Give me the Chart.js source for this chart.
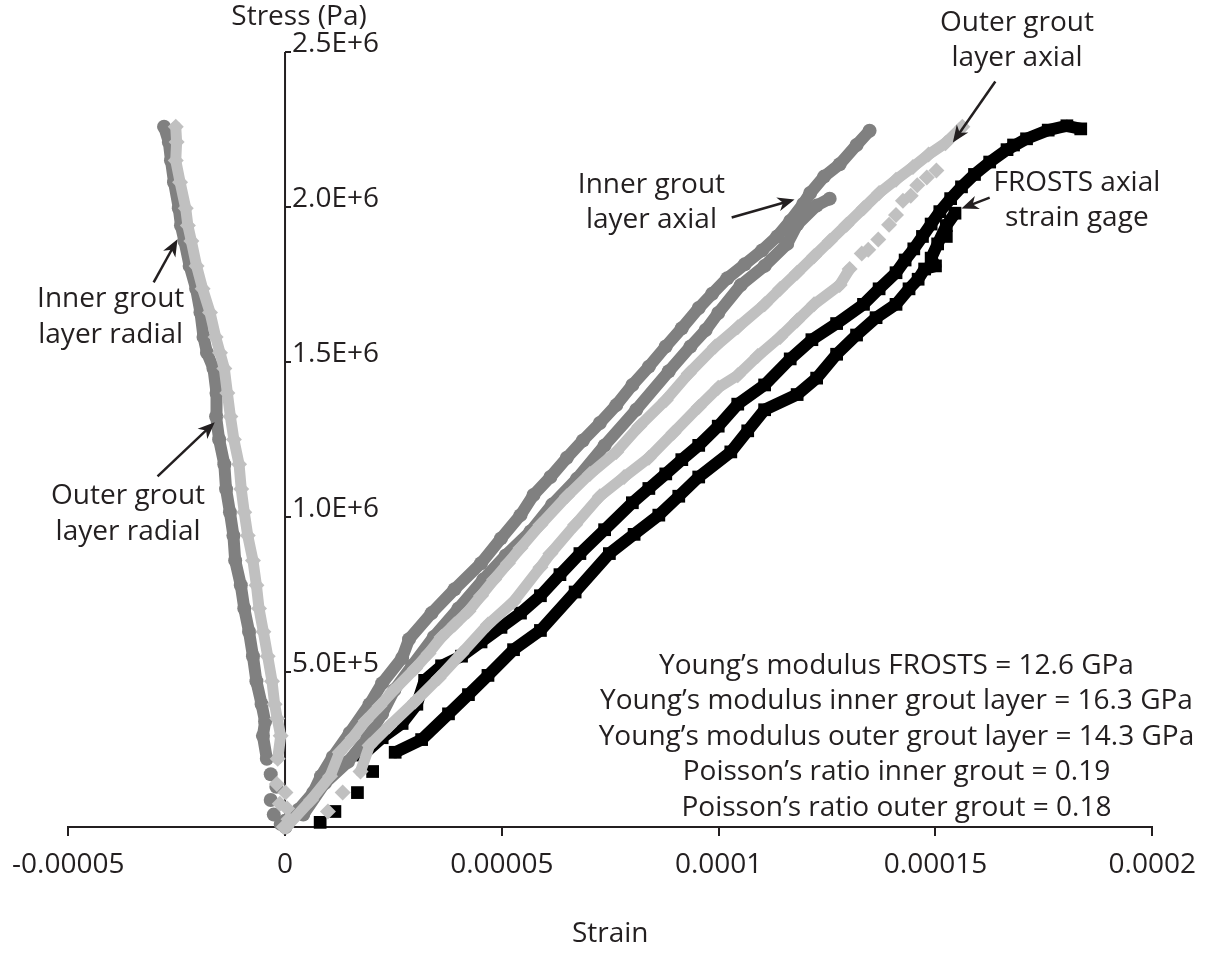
<!DOCTYPE html>
<html>
<head>
<meta charset="utf-8">
<script src="https://cdn.jsdelivr.net/npm/chart.js@4.4.1/dist/chart.umd.min.js"></script>
<style>
  html, body { margin: 0; padding: 0; background: #fff; }
  #chart { display: block; }
</style>
</head>
<body>
<canvas id="chart" width="1208" height="965"></canvas>
<script>
const INK = '#231f20';
const DARK = '#808080';
const LIGHT = '#c0c0c0';
const FONT = '"Open Sans", "Noto Sans", sans-serif';
const FONT_SIZE = 28;

// axis labels
const strainTickLabels = ['-0.00005', '0', '0.00005', '0.0001', '0.00015', '0.0002'];
const stressTickLabels = ['', '5.0E+5', '1.0E+6', '1.5E+6', '2.0E+6', '2.5E+6'];

// readings: [strain in microstrain, stress in MPa]
const innerRadial = [
    [-4.2, 0.220], [-5.1, 0.294], [-4.6, 0.340], [-5.4, 0.396], [-6.6, 0.470], [-7.4, 0.551],
    [-8.3, 0.630], [-9.4, 0.705], [-10.2, 0.780], [-11.5, 0.860], [-11.9, 0.940], [-12.7, 1.015],
    [-13.6, 1.090], [-14.0, 1.170], [-15.2, 1.250], [-15.9, 1.324], [-15.8, 1.400], [-16.5, 1.479],
    [-18.0, 1.530], [-18.8, 1.581], [-19.5, 1.660], [-20.5, 1.736], [-22.0, 1.810], [-23.2, 1.890],
    [-24.0, 1.940], [-24.5, 1.996], [-25.6, 2.080], [-26.3, 2.150], [-26.8, 2.210], [-27.9, 2.259]
];
const innerRadialLow = [[-3.3, 0.170], [-2.0, 0.130], [-3.3, 0.087], [-2.6, 0.040], [-1.0, 0.010], [0.0, 0.020]];

const outerRadial = [
    [-1.7, 0.220], [-1.0, 0.294], [-1.8, 0.350], [-2.4, 0.396], [-3.0, 0.470], [-4.0, 0.551],
    [-5.0, 0.630], [-6.0, 0.705], [-6.6, 0.780], [-7.4, 0.860], [-8.6, 0.940], [-9.4, 1.015],
    [-10.1, 1.090], [-10.6, 1.170], [-11.8, 1.250], [-12.6, 1.324], [-13.3, 1.400], [-14.0, 1.479],
    [-15.0, 1.530], [-16.0, 1.581], [-17.3, 1.660], [-19.0, 1.736], [-20.4, 1.810], [-21.6, 1.890],
    [-22.4, 1.940], [-22.9, 1.996], [-24.2, 2.080], [-25.2, 2.150], [-25.0, 2.210], [-25.2, 2.259]
];
const outerRadialLow = [[0.1, 0.111], [-1.9, 0.139], [0.8, 0.025], [-0.3, 0.0], [0.5, 0.060], [-1.2, 0.075]];

const innerAxial1 = [
    [0.1, 0.000], [3.1, 0.056], [6.5, 0.111], [8.3, 0.164], [11.0, 0.226], [14.9, 0.303],
    [19.5, 0.396], [22.4, 0.464], [27.0, 0.545], [28.6, 0.606], [33.8, 0.690], [39.1, 0.767],
    [45.2, 0.851], [49.8, 0.931], [54.3, 1.006], [57.3, 1.071], [61.2, 1.129], [65.0, 1.191],
    [68.7, 1.247], [72.6, 1.303], [76.4, 1.361], [80.1, 1.426], [83.9, 1.485], [87.8, 1.550],
    [91.5, 1.609], [95.4, 1.674], [98.5, 1.720], [102.0, 1.770], [106.0, 1.815], [110.0, 1.860],
    [113.5, 1.905], [116.5, 1.955], [119.5, 2.010], [121.1, 2.045], [124.3, 2.098], [127.9, 2.138],
    [131.8, 2.200], [134.8, 2.246]
];
const innerAxial2 = [
    [4.2, 0.040], [9.2, 0.142], [14.5, 0.210], [19.0, 0.288], [22.4, 0.365], [25.2, 0.442],
    [29.3, 0.520], [34.3, 0.613], [40.0, 0.705], [45.7, 0.798], [50.9, 0.876], [56.6, 0.953],
    [61.6, 1.040], [67.3, 1.123], [73.7, 1.231], [81.0, 1.346], [88.5, 1.470], [93.5, 1.550],
    [97.0, 1.603], [99.9, 1.658], [105.1, 1.748], [110.6, 1.810], [115.8, 1.881], [118.1, 1.943],
    [122.6, 2.005], [125.6, 2.027]
];

const outerAxial1 = [
    [0.3, 0.000], [6.0, 0.087], [10.4, 0.164], [12.6, 0.241], [15.6, 0.288], [18.6, 0.343],
    [21.8, 0.390], [24.7, 0.436], [30.0, 0.511], [33.1, 0.560], [36.1, 0.613], [39.1, 0.653],
    [42.3, 0.696], [45.2, 0.746], [48.2, 0.798], [51.4, 0.851], [54.3, 0.900], [58.9, 0.975],
    [65.0, 1.067], [70.3, 1.139], [76.4, 1.210], [81.7, 1.293], [87.8, 1.377], [93.1, 1.463],
    [99.2, 1.550], [104.4, 1.612], [110.6, 1.686], [114.2, 1.736], [118.1, 1.788], [122.0, 1.841],
    [125.6, 1.890], [129.5, 1.943], [133.4, 1.996], [137.0, 2.045], [140.9, 2.088], [144.8, 2.129],
    [148.4, 2.169], [152.3, 2.206], [156.2, 2.259]
];
const outerAxial2 = [
    [17.4, 0.179], [19.5, 0.263], [24.0, 0.325], [30.0, 0.405], [35.4, 0.480], [40.7, 0.560],
    [46.8, 0.653], [52.7, 0.727], [58.9, 0.838], [61.2, 0.882], [66.9, 0.975], [72.6, 1.067],
    [78.2, 1.129], [83.9, 1.191], [89.6, 1.272], [95.4, 1.355], [99.9, 1.417], [104.4, 1.457],
    [109.0, 1.519], [114.2, 1.581], [118.1, 1.634], [122.0, 1.686], [127.9, 1.748], [130.2, 1.800]
];
const outerAxialDots = [
    [9.9, 0.050], [13.3, 0.111], [133.0, 1.850], [134.5, 1.862], [136.8, 1.895], [139.3, 1.943],
    [140.9, 1.974], [142.5, 2.020], [144.3, 2.036], [145.8, 2.070], [148.0, 2.095], [150.2, 2.118]
];

const frosts1 = [
    [17.9, 0.232], [22.4, 0.288], [27.0, 0.334], [30.4, 0.396], [32.2, 0.473], [36.1, 0.520],
    [40.7, 0.551], [45.2, 0.597], [49.8, 0.644], [54.3, 0.690], [58.9, 0.746], [63.4, 0.814],
    [68.0, 0.882], [73.7, 0.959], [80.1, 1.046], [83.9, 1.092], [87.8, 1.139], [91.5, 1.185],
    [95.4, 1.231], [99.9, 1.293], [104.4, 1.364], [110.6, 1.426], [116.5, 1.510], [121.5, 1.572],
    [127.2, 1.624], [133.4, 1.686], [137.0, 1.736], [140.9, 1.788], [143.0, 1.829], [145.0, 1.865],
    [147.0, 1.905], [149.0, 1.945], [151.0, 1.985], [153.5, 2.027], [156.0, 2.065], [159.0, 2.105],
    [162.5, 2.145], [166.5, 2.185], [171.0, 2.220], [176.0, 2.248], [180.3, 2.262], [183.5, 2.252]
];
const frosts2 = [
    [25.4, 0.241], [31.5, 0.282], [37.7, 0.365], [42.3, 0.427], [46.8, 0.489], [52.7, 0.572],
    [58.9, 0.634], [66.9, 0.758], [74.8, 0.882], [80.5, 0.944], [86.2, 1.006], [90.8, 1.067],
    [95.4, 1.129], [102.8, 1.210], [106.7, 1.278], [110.6, 1.346], [118.1, 1.395], [122.6, 1.448],
    [127.2, 1.525], [131.8, 1.587], [136.3, 1.643], [140.9, 1.686], [143.9, 1.736], [146.0, 1.767],
    [147.5, 1.800], [150.0, 1.810], [149.0, 1.835], [150.5, 1.881], [152.5, 1.940], [154.5, 1.980]
];
const frostsDots = [[8.1, 0.015], [11.5, 0.050], [16.7, 0.111], [20.2, 0.179], [152.5, 1.905], [168.0, 2.200]];

// annotations, anchored in data units
const seriesLabels = [
    { text: ['Outer grout', 'layer axial'], at: [168.8, 2.595] },
    { text: ['Inner grout', 'layer axial'], at: [84.5, 2.071] },
    { text: ['FROSTS axial', 'strain gage'], at: [182.6, 2.078] },
    { text: ['Inner grout', 'layer radial'], at: [-40.2, 1.703] },
    { text: ['Outer grout', 'layer radial'], at: [-36.2, 1.067] }
];
const arrows = [
    { from: [163.8, 2.405], to: [154.0, 2.208] },
    { from: [103.0, 1.966], to: [117.5, 2.024] },
    { from: [162.5, 2.030], to: [156.0, 1.995] },
    { from: [-30.3, 1.757], to: [-24.8, 1.896] },
    { from: [-29.4, 1.131], to: [-16.2, 1.306] }
];
const notes = [
    'Young’s modulus FROSTS = 12.6 GPa',
    'Young’s modulus inner grout layer = 16.3 GPa',
    'Young’s modulus outer grout layer = 14.3 GPa',
    'Poisson’s ratio inner grout = 0.19',
    'Poisson’s ratio outer grout = 0.18'
];
const notesAt = [141.0, 0.520];

const toXY = pts => pts.map(([e, s]) => ({ x: e * 1e-6, y: s * 1e6 }));

const INNER = { color: DARK, pointStyle: 'circle', radius: 7, width: 12, order: 2 };
const OUTER = { color: LIGHT, pointStyle: 'rectRot', radius: 8, width: 11, order: 1 };
const FROSTS = { color: '#000000', pointStyle: 'rect', radius: 9, width: 12, order: 3 };

function series(pts, st, line) {
    return {
        data: toXY(pts),
        showLine: line,
        borderColor: st.color,
        backgroundColor: st.color,
        borderWidth: st.width,
        borderJoinStyle: 'round',
        borderCapStyle: 'round',
        pointStyle: st.pointStyle,
        pointRadius: st.radius,
        pointBorderWidth: 0,
        pointHoverRadius: st.radius,
        order: st.order,
        clip: false
    };
}

function drawArrow(ctx, x1, y1, x2, y2) {
    const a = Math.atan2(y2 - y1, x2 - x1);
    const len = 17, half = 7;
    const c = Math.cos(a), s = Math.sin(a);
    const bx = x2 - len * c, by = y2 - len * s;
    ctx.beginPath();
    ctx.moveTo(x1, y1);
    ctx.lineTo(x2 - 8 * c, y2 - 8 * s);
    ctx.stroke();
    ctx.beginPath();
    ctx.moveTo(x2, y2);
    ctx.lineTo(bx - half * s, by + half * c);
    ctx.lineTo(x2 - 12 * c, y2 - 12 * s);
    ctx.lineTo(bx + half * s, by - half * c);
    ctx.closePath();
    ctx.fill();
}

// stress axis sits at zero strain, labels on its right
const stressAxis = {
    id: 'stressAxis',
    beforeDatasetsDraw(chart) {
        const { ctx, scales: { x, y } } = chart;
        const x0 = x.getPixelForValue(0);
        ctx.save();
        ctx.strokeStyle = INK;
        ctx.lineWidth = 2;
        ctx.beginPath();
        ctx.moveTo(x0, y.getPixelForValue(y.max));
        ctx.lineTo(x0, y.getPixelForValue(0));
        ctx.stroke();
        ctx.fillStyle = INK;
        ctx.font = `${FONT_SIZE}px ${FONT}`;
        ctx.textAlign = 'left';
        ctx.textBaseline = 'middle';
        y.ticks.forEach((t, i) => {
            const lbl = stressTickLabels[i];
            if (!lbl) return;
            const py = Math.round(y.getPixelForValue(t.value));
            ctx.beginPath();
            ctx.moveTo(x0, py);
            ctx.lineTo(x0 + 6, py);
            ctx.stroke();
            ctx.fillText(lbl, x0 + 7, py - 8);
        });
        ctx.textAlign = 'center';
        ctx.fillText('Stress (Pa)', x0 + 14, 17);
        ctx.restore();
    },
    afterDraw(chart) {
        const { ctx, scales: { x, y } } = chart;
        const px = v => x.getPixelForValue(v * 1e-6);
        const py = v => y.getPixelForValue(v * 1e6);
        ctx.save();
        ctx.fillStyle = INK;
        ctx.strokeStyle = INK;
        ctx.lineWidth = 2.5;
        ctx.font = `${FONT_SIZE}px ${FONT}`;
        ctx.textAlign = 'center';
        ctx.textBaseline = 'middle';
        seriesLabels.forEach(l => {
            l.text.forEach((t, i) => ctx.fillText(t, px(l.at[0]), py(l.at[1]) + i * 35.5));
        });
        notes.forEach((t, i) => ctx.fillText(t, px(notesAt[0]), py(notesAt[1]) + i * 35.5));
        arrows.forEach(a => drawArrow(ctx, px(a.from[0]), py(a.from[1]), px(a.to[0]), py(a.to[1])));
        ctx.restore();
    }
};

function draw() {
    const ctx = document.getElementById('chart').getContext('2d');
    new Chart(ctx, {
        type: 'scatter',
        data: {
            datasets: [
                series(innerRadial, INNER, true),
                series(innerRadialLow, INNER, false),
                series(outerRadial, OUTER, true),
                series(outerRadialLow, OUTER, false),
                series(innerAxial1, INNER, true),
                series(innerAxial2, INNER, true),
                series(outerAxial1, OUTER, true),
                series(outerAxial2, OUTER, true),
                series(outerAxialDots, OUTER, false),
                series(frosts1, FROSTS, true),
                series(frosts2, FROSTS, true),
                series(frostsDots, FROSTS, false)
            ]
        },
        options: {
            responsive: false,
            devicePixelRatio: 1,
            animation: false,
            layout: { padding: { left: 61.5, right: 49, top: 52, bottom: 14.2 } },
            plugins: { legend: { display: false }, tooltip: { enabled: false } },
            scales: {
                x: {
                    type: 'linear',
                    position: 'bottom',
                    min: -0.00005,
                    max: 0.0002,
                    border: { display: true, color: INK, width: 2 },
                    grid: { drawOnChartArea: false, drawTicks: true, tickLength: 9, color: INK, lineWidth: 2 },
                    ticks: {
                        stepSize: 0.00005,
                        autoSkip: false,
                        maxRotation: 0,
                        padding: 12,
                        color: INK,
                        font: { family: FONT, size: FONT_SIZE },
                        callback: (v, i) => strainTickLabels[i]
                    },
                    title: {
                        display: true,
                        text: 'Strain',
                        color: INK,
                        font: { family: FONT, size: FONT_SIZE },
                        padding: { top: 23.6, bottom: 0 }
                    }
                },
                y: {
                    type: 'linear',
                    display: false,
                    min: 0,
                    max: 2.5e6,
                    ticks: { stepSize: 5e5 }
                }
            }
        },
        plugins: [stressAxis]
    });
}

document.fonts.load(`${FONT_SIZE}px "Open Sans"`).then(draw, draw);
</script>
</body>
</html>
